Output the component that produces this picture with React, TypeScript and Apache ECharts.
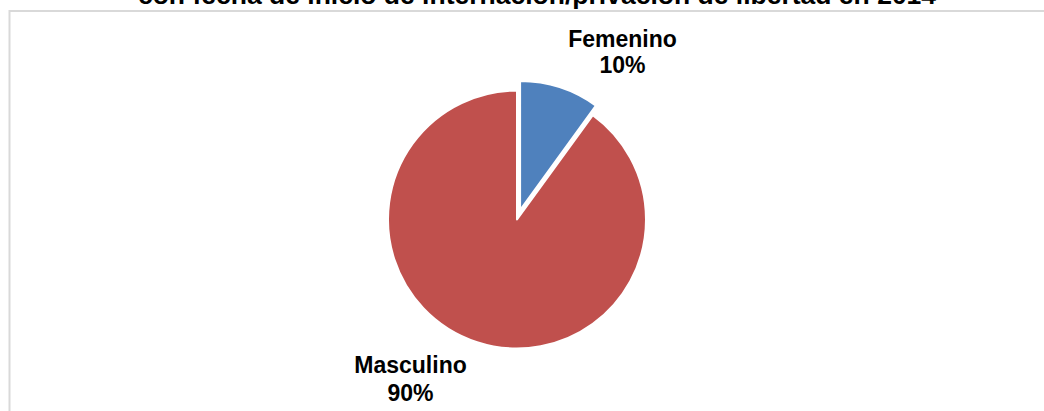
import React, { useEffect, useRef } from "react";
import * as echarts from "echarts";

const categories = ["Femenino", "Masculino"];
const values = [10, 90];
const colors = ["#4F81BD", "#C0504D"];
const titleText = "con fecha de inicio de internación/privación de libertad en 2014";

const FONT = "'Liberation Sans', Arial, sans-serif";

export default function App() {
  const ref = useRef<HTMLDivElement>(null);
  useEffect(() => {
    if (!ref.current) return;
    const chart = echarts.init(ref.current, undefined, { renderer: "svg" });
    const total = values.reduce((a, b) => a + b, 0);
    const labelPos = [
      { x: 622.5, y: 52, lh: 25.5 },
      { x: 410.5, y: 379, lh: 28.5 },
    ];
    const labelGraphics = categories.map((name, i) => ({
      type: "text",
      x: labelPos[i].x,
      y: labelPos[i].y,
      silent: true,
      style: {
        text: `${name}\n${Math.round((values[i] / total) * 100)}%`,
        fontFamily: FONT,
        fontWeight: "bold",
        fontSize: 23,
        lineHeight: labelPos[i].lh,
        fill: "#000000",
        align: "center",
        verticalAlign: "middle",
      },
    }));
    chart.setOption({
      animation: false,
      backgroundColor: "#ffffff",
      graphic: [
        {
          type: "rect",
          shape: { x: 9.5, y: 11, width: 1200, height: 600 },
          style: { fill: "none", stroke: "#d9d9d9", lineWidth: 2 },
          silent: true,
        },
        {
          type: "text",
          x: 537,
          y: -5,
          style: {
            text: titleText,
            fontFamily: FONT,
            fontWeight: "bold",
            fontSize: 26.5,
            fill: "#000000",
            align: "center",
            verticalAlign: "middle",
          },
          silent: true,
        },
        ...labelGraphics,
      ],
      series: [
        {
          type: "pie",
          center: [517, 219.5],
          radius: 129,
          startAngle: 90,
          clockwise: true,
          selectedMode: "single",
          selectedOffset: 10,
          itemStyle: { borderColor: "#ffffff", borderWidth: 2 },
          label: { show: false },
          labelLine: { show: false },
          emphasis: { disabled: true },
          data: categories.map((name, i) => ({
            name,
            value: values[i],
            selected: i === 0,
            itemStyle: { color: colors[i] },
          })),
        },
      ],
    });
    return () => chart.dispose();
  }, []);
  return (
    <div
      ref={ref}
      style={{ position: "fixed", left: 0, top: 0, width: 1044, height: 411 }}
    />
  );
}
